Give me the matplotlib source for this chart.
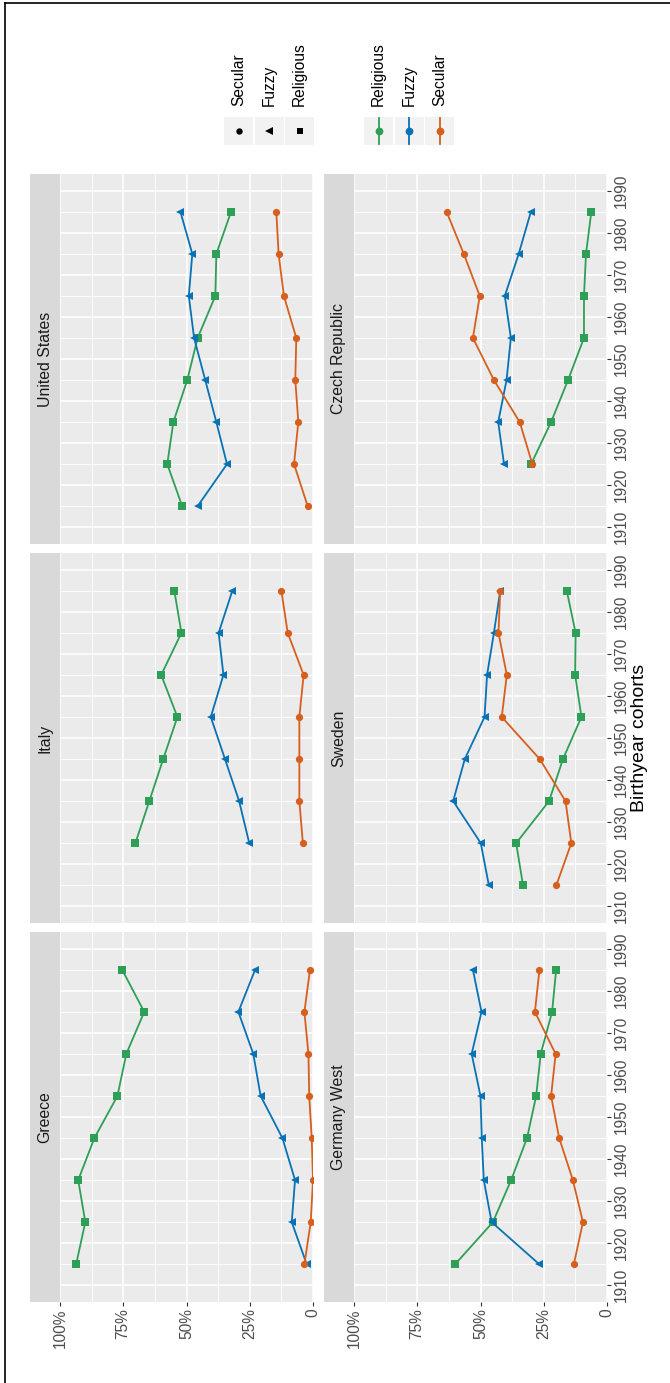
import numpy as np
import matplotlib
matplotlib.use("Agg")
import matplotlib.pyplot as plt
from matplotlib.patches import Rectangle

plt.rcParams['font.family'] = ['Liberation Sans', 'DejaVu Sans']

# ---------------- data ----------------
years = [1915, 1925, 1935, 1945, 1955, 1965, 1975, 1985]
series_names = ["Religious", "Fuzzy", "Secular"]
nan = np.nan

greece_religious = [93.6, 90.0, 92.8, 86.4, 77.3, 73.8, 66.7, 75.4]
greece_fuzzy     = [2.5, 8.4, 7.1, 12.1, 20.7, 23.6, 29.5, 22.9]
greece_secular   = [3.4, 0.9, 0.0, 0.5, 1.5, 1.8, 3.4, 1.2]

italy_religious = [nan, 70.2, 64.7, 59.2, 53.6, 60.0, 52.0, 54.8]
italy_fuzzy     = [nan, 25.2, 29.2, 34.8, 40.4, 35.4, 37.3, 31.9]
italy_secular   = [nan, 4.0, 5.4, 5.4, 5.4, 3.7, 10.0, 12.5]

us_religious = [51.7, 57.6, 55.2, 49.7, 45.6, 38.6, 38.2, 32.4]
us_fuzzy     = [45.6, 34.0, 38.2, 42.6, 47.0, 49.1, 47.7, 52.4]
us_secular   = [2.1, 7.5, 5.8, 7.0, 6.6, 11.5, 13.6, 14.5]

germany_religious = [60.0, 45.1, 37.9, 31.6, 28.0, 26.2, 21.7, 20.1]
germany_fuzzy     = [26.8, 45.6, 48.7, 49.5, 50.0, 53.5, 49.6, 53.0]
germany_secular   = [13.1, 9.5, 13.5, 18.9, 22.1, 20.3, 28.5, 26.7]

sweden_religious = [33.2, 35.9, 22.9, 17.4, 10.1, 12.6, 12.4, 15.9]
sweden_fuzzy     = [46.7, 49.9, 60.8, 56.2, 48.4, 47.4, 44.7, 42.2]
sweden_secular   = [20.0, 14.1, 16.4, 26.6, 41.6, 39.6, 42.9, 42.2]

czech_religious = [nan, 30.0, 22.1, 15.4, 9.1, 9.1, 8.3, 6.2]
czech_fuzzy     = [nan, 40.7, 43.0, 39.7, 38.0, 40.4, 34.9, 30.1]
czech_secular   = [nan, 29.5, 34.5, 44.7, 53.0, 50.3, 56.6, 63.4]

countries = ["Greece", "Italy", "United States",
             "Germany West", "Sweden", "Czech Republic"]
country_data = {
    "Greece": (greece_religious, greece_fuzzy, greece_secular),
    "Italy": (italy_religious, italy_fuzzy, italy_secular),
    "United States": (us_religious, us_fuzzy, us_secular),
    "Germany West": (germany_religious, germany_fuzzy, germany_secular),
    "Sweden": (sweden_religious, sweden_fuzzy, sweden_secular),
    "Czech Republic": (czech_religious, czech_fuzzy, czech_secular),
}
pct_ticks = [0, 25, 50, 75, 100]
pct_labels = ["0", "25%", "50%", "75%", "100%"]
year_ticks = [1910, 1920, 1930, 1940, 1950, 1960, 1970, 1980, 1990]

colors = {"Religious": "#2E9F57", "Fuzzy": "#0872B4", "Secular": "#D65F1E"}
markers = {"Religious": "s", "Fuzzy": "<", "Secular": "o"}
msizes = {"Religious": 5.2, "Fuzzy": 6.0, "Secular": 5.2}

# ---------------- layout ----------------
W, H = 670, 1383
fig = plt.figure(figsize=(W / 100, H / 100), dpi=100)

def add_ax(x0, y0, x1, y1):
    return fig.add_axes([x0 / W, 1 - y1 / H, (x1 - x0) / W, (y1 - y0) / H])

cols = [(30, 60, 313), (324, 354, 607)]   # strip x0, panel x0, panel x1
rows = [(932, 1302), (553, 923), (174, 544)]  # bottom to top

TICK_COLOR = "#333333"
LABEL_COLOR = "#4D4D4D"

for ci, (sx0, px0, px1) in enumerate(cols):
    for ri, (py0, py1) in enumerate(rows):
        cname = countries[ci * 3 + ri]
        # strip
        sax = add_ax(sx0, py0, px0, py1)
        sax.set_facecolor("#D9D9D9")
        sax.set_xticks([]); sax.set_yticks([])
        for s in sax.spines.values():
            s.set_visible(False)
        sax.text(0.5, 0.5, cname, rotation=90, ha="center", va="center",
                 fontsize=11.4, color="#1A1A1A", transform=sax.transAxes)
        # panel
        ax = add_ax(px0, py0, px1, py1)
        ax.set_facecolor("#EBEBEB")
        for s in ax.spines.values():
            s.set_visible(False)
        ax.set_xlim(100, 0)
        ax.set_ylim(1906, 1994)
        ax.set_xticks(pct_ticks)
        ax.set_xticks([12.5, 37.5, 62.5, 87.5], minor=True)
        ax.set_yticks(year_ticks)
        ax.set_yticks([1905 + 10 * k for k in range(1, 9)], minor=True)
        ax.grid(which="major", color="white", linewidth=1.15)
        ax.grid(which="minor", color="white", linewidth=0.6)
        ax.set_axisbelow(True)
        # percent axis (bottom)
        if ri == 0:
            ax.set_xticklabels(pct_labels, rotation=90, fontsize=11.2,
                               color=LABEL_COLOR)
            ax.tick_params(axis="x", which="major", length=3.2, width=0.8,
                           color=TICK_COLOR, pad=1.5)
        else:
            ax.tick_params(axis="x", which="major", length=0,
                           labelbottom=False)
        ax.tick_params(axis="x", which="minor", length=0)
        # year axis (right)
        ax.yaxis.tick_right()
        if ci == 1:
            ax.set_yticklabels([str(y) for y in year_ticks], rotation=90,
                               fontsize=11.2, color=LABEL_COLOR, va="center")
            ax.tick_params(axis="y", which="major", length=3.2, width=0.8,
                           color=TICK_COLOR, pad=1.5)
        else:
            ax.tick_params(axis="y", which="major", length=0,
                           labelright=False)
        ax.tick_params(axis="y", which="minor", length=0)
        ax.tick_params(left=False, labelleft=False)

        for name, vals in zip(series_names, country_data[cname]):
            ax.plot(vals, years, color=colors[name], linewidth=1.3,
                    marker=markers[name], markersize=msizes[name],
                    markeredgewidth=0, zorder=3)

# axis title
fig.text(640 / W, 1 - 738 / H, "Birthyear cohorts", rotation=90,
         ha="center", va="center", fontsize=14, color="black")

# ---------------- legends + frame (overlay axes in pixel coords) -----------
ov = fig.add_axes([0, 0, 1, 1])
ov.set_xlim(0, W)
ov.set_ylim(H, 0)
ov.axis("off")
ov.patch.set_alpha(0)

key_top, key_bot = 117, 145
shape_order = ["Secular", "Fuzzy", "Religious"]
shape_x = [224, 254.5, 285]
for name, x0 in zip(shape_order, shape_x):
    ov.add_patch(Rectangle((x0, key_top), 29, key_bot - key_top,
                           facecolor="#F2F2F2", edgecolor="none"))
    ov.plot([x0 + 14.5], [(key_top + key_bot) / 2], marker=markers[name],
            color="black", markersize=msizes[name] - 0.6, markeredgewidth=0)
    ov.text(x0 + 14.5, 106, name, rotation=90, ha="center", va="bottom",
            fontsize=11.2, color="black")

color_order = ["Religious", "Fuzzy", "Secular"]
color_x = [364, 394.5, 425]
for name, x0 in zip(color_order, color_x):
    ov.add_patch(Rectangle((x0, key_top), 29, key_bot - key_top,
                           facecolor="#F2F2F2", edgecolor="none"))
    cx = x0 + 14.5
    ov.plot([cx, cx], [key_top + 1, key_bot - 1], color=colors[name],
            linewidth=1.3)
    ov.plot([cx], [(key_top + key_bot) / 2], marker="o", color=colors[name],
            markersize=5.6, markeredgewidth=0)
    ov.text(cx, 106, name, rotation=90, ha="center", va="bottom",
            fontsize=11.2, color="black")

# page frame (top and left edges)
ov.plot([4.5, W], [2.5, 2.5], color="black", linewidth=1.2)
ov.plot([4.5, 4.5], [2.5, H], color="black", linewidth=1.2)

fig.savefig("out.png", dpi=100)
